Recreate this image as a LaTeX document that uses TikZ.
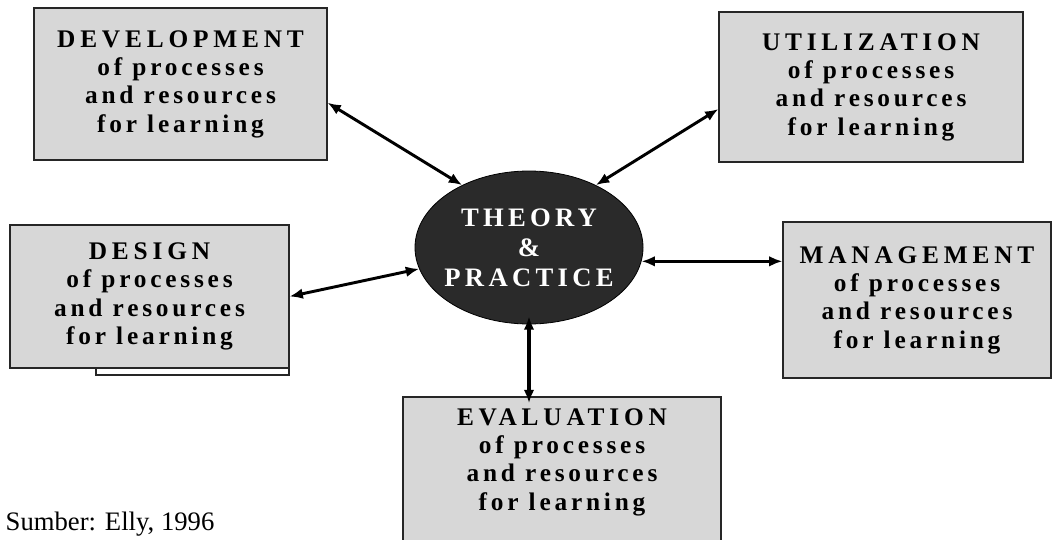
\documentclass[tikz,border=0pt]{standalone}
\usepackage{fontspec}
\setmainfont{Liberation Serif}
\usetikzlibrary{arrows.meta,shapes.geometric}
\newfontfamily\headfont[LetterSpace=19]{Liberation Serif}
\newfontfamily\bodyfont[LetterSpace=15]{Liberation Serif}
\newfontfamily\hubfont[LetterSpace=16]{Liberation Serif}
\definecolor{boxgray}{RGB}{215,215,215}
\definecolor{hubgray}{RGB}{42,42,42}
\newcommand\areatext[1]{{\headfont #1}\\{\bodyfont of processes}\\{\bodyfont and resources}\\{\bodyfont for learning}}

\begin{document}
\begin{tikzpicture}[x=.75pt,y=-.75pt,box/.style={draw=black!85,fill=boxgray,line width=.8pt,align=center,inner sep=0pt,font=\bfseries\fontsize{19}{21.25}\selectfont},hub/.style={ellipse,draw=black,fill=hubgray,line width=.6pt,inner sep=0pt,minimum width=171pt,minimum height=114.75pt},bi/.style={<->,>={Latex[length=10pt,width=8pt]},line width=2.2pt}]
\useasboundingbox(0,0)rectangle(1052,539);
\clip(0,0)rectangle(1052,539);

% the five areas, sizes and centres in px
\node[box,minimum width=219.75pt,minimum height=114pt](dev)at(180.5,84){\areatext{DEVELOPMENT}};
\node[box,minimum width=228pt,minimum height=112.5pt](util)at(871,87){\areatext{UTILIZATION}};
\draw[draw=black!85,fill=white,line width=.8pt](96,330)rectangle(289,375);
\node[box,minimum width=209.25pt,minimum height=107.25pt](design)at(149.5,296.5){\areatext{DESIGN}};
\node[box,minimum width=201pt,minimum height=117pt](mgmt)at(917,300){\areatext{MANAGEMENT}};
% evaluation runs off the bottom edge, so its text sits apart
\node[box,minimum width=238.5pt,minimum height=122.25pt](eval)at(562,478.5){};
\node[align=center,font=\bfseries\fontsize{19}{21.25}\selectfont](evaltext)at(562,462){\areatext{EVALUATION}};

\node[hub](tp)at(529,247.5){};
\node[align=center,text=white,font=\hubfont\bfseries\fontsize{20}{22.5}\selectfont](tptext)at(tp){THEORY\\\&\\PRACTICE};

\draw[bi]([yshift=-14pt]dev.east)--(tp.137);
\draw[bi]([yshift=-16.5pt]util.west)--(tp.43);
\draw[bi](design.east)--(tp.191);
\draw[bi](tp.-7)--(tp.-7 -| mgmt.west);
\draw[bi,line width=3.6pt,shorten <=-6pt,shorten >=-5pt](tp.south)--(tp.south |- eval.north);

\node[anchor=base west,font=\fontsize{20}{24}\selectfont](src)at(1,530){Sumber: Elly, 1996};
\end{tikzpicture}
\end{document}
